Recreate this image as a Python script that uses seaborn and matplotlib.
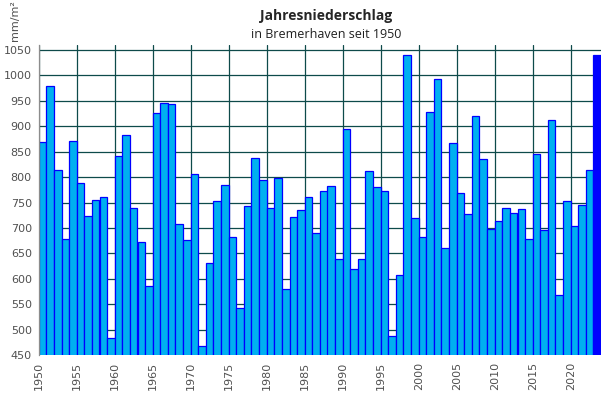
import numpy as np
import pandas as pd
import seaborn as sns
import matplotlib.pyplot as plt

# Jahresniederschlag Bremerhaven (mm/m²)
years = list(range(1950, 2024))
precip = [
    870, 980, 815, 678, 872, 788, 723, 755, 760, 483,   # 1950-1959
    841, 882, 739, 672, 585, 927, 945, 943, 707, 676,   # 1960-1969
    806, 468, 631, 753, 784, 682, 542, 743, 837, 794,   # 1970-1979
    739, 798, 579, 721, 735, 760, 691, 772, 782, 638,   # 1980-1989
    894, 619, 638, 813, 780, 772, 487, 607, 1040, 719,  # 1990-1999
    682, 928, 994, 660, 867, 768, 727, 920, 835, 697,   # 2000-2009
    713, 739, 729, 737, 678, 845, 695, 912, 568, 754,   # 2010-2019
    703, 745, 815, 1040,                                # 2020-2023
]
status = ["past"] * (len(years) - 1) + ["current"]
y_ticks = list(range(450, 1051, 50))
x_label_years = list(range(1950, 2021, 5))

title = "Jahresniederschlag"
subtitle = "in Bremerhaven seit 1950"
unit = "mm/m²"

df = pd.DataFrame({"year": years, "precip": precip, "status": status})

sns.set_style("white")
plt.rcParams["font.family"] = ["DejaVu Sans"]

fig = plt.figure(figsize=(6.06, 3.93), dpi=100)
ax = fig.add_axes([38.7 / 606, 1 - 355 / 393, 562.4 / 606, 310 / 393])

sns.barplot(data=df, x="year", y="precip", hue="status",
            palette={"past": "#00B0F0", "current": "#0000FF"},
            saturation=1, dodge=False, width=1.0, edgecolor="#0000FF",
            linewidth=0.9, legend=False, ax=ax, zorder=3)

# ===== axes & grid =====
ax.set_ylim(450, 1060)
ax.set_xlim(-0.5, len(years) - 0.5)
ax.set_yticks(y_ticks)
ax.set_yticklabels([str(v) for v in y_ticks], fontsize=8, color="#505050")
ax.set_xticks([years.index(y) - 0.5 for y in x_label_years])
ax.set_xticklabels([str(y) for y in x_label_years], rotation=90,
                   fontsize=8, color="#505050")
ax.tick_params(axis="both", length=3, width=0.8, color="#8C8C8C", pad=2)

ax.grid(True, color="#0E4A4A", linewidth=0.9)
ax.set_axisbelow(True)
for side in ["top", "right", "bottom"]:
    ax.spines[side].set_visible(False)
ax.spines["left"].set_color("#8C8C8C")
ax.spines["left"].set_linewidth(0.9)
ax.spines["left"].set_zorder(4)
ax.set_xlabel("")
ax.set_ylabel("")

# ===== titles =====
fig.text(326 / 606, 1 - 16 / 393, title, ha="center", va="center",
         fontsize=10, fontweight="bold", family=["Open Sans", "DejaVu Sans"])
fig.text(326 / 606, 1 - 34 / 393, subtitle, ha="center", va="center",
         fontsize=9, family=["Open Sans", "DejaVu Sans"], color="#202020")
fig.text(15 / 606, 1 - 21 / 393, unit, ha="center", va="center",
         rotation=90, fontsize=8, color="#505050")

fig.savefig("out.png", dpi=100)
